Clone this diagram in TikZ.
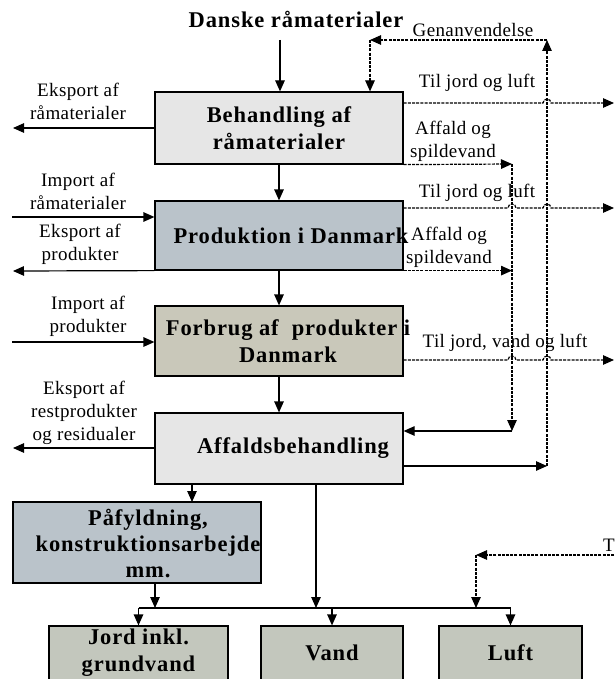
\documentclass[tikz,border=0pt]{standalone}
\usepackage{fontspec}
\setmainfont{Liberation Serif}
\newfontfamily\labelfont[LetterSpace=2]{Liberation Serif}
\newfontfamily\boxfont[LetterSpace=4]{Liberation Serif}
\usetikzlibrary{arrows.meta,calc}
\definecolor{lightbox}{RGB}{230,230,230}
\definecolor{bluebox}{RGB}{186,195,202}
\definecolor{khakibox}{RGB}{201,200,186}
\definecolor{greenbox}{RGB}{195,199,189}
\begin{document}
\begin{tikzpicture}[x=1pt,y=-1pt,
	box/.style={draw, line width=1.2pt, minimum width=248pt, inner sep=0pt},
	boxtxt/.style={font=\boxfont\bfseries\fontsize{22.5}{27}\selectfont, align=center, inner sep=0pt},
	lbl/.style={font=\labelfont\fontsize{19}{23}\selectfont, align=center, inner sep=0pt},
	flow/.style={line width=1.2pt, -{Triangle[length=11pt,width=9.5pt]}},
	dline/.style={line width=1.2pt, dash pattern=on 3pt off 1.2pt},
	dflow/.style={dline, -{Triangle[length=11pt,width=9.5pt]}}]
	\clip (0,0) rectangle (615,679);

	% boxes
	\node[box, fill=lightbox, minimum height=72pt, boxtxt] (beh) at (279,128) {Behandling af\\råmaterialer};
	\node[box, fill=bluebox, minimum height=69pt] (prod) at (279,235.5) {};
	\node[boxtxt] (prodtxt) at (291,236) {Produktion i Danmark};
	\node[box, fill=khakibox, minimum height=70pt] (forb) at (279,341) {};
	\node[boxtxt] (forbtxt) at (288,341) {Forbrug af\ \ produkter i\\Danmark};
	\node[box, fill=lightbox, minimum height=71pt] (affb) at (279,448.5) {};
	\node[boxtxt] (affbtxt) at (293,448) {Affaldsbehandling};
	\node[box, fill=bluebox, minimum height=81pt] (paf) at (137,542.5) {};
	\node[boxtxt, font=\boxfont\bfseries\fontsize{22.5}{26}\selectfont] (paftxt) at (148,544) {Påfyldning,\\konstruktionsarbejde\\mm.};
	\node[box, fill=greenbox, minimum width=179pt, minimum height=54pt, boxtxt] (jord) at (138.5,653) {Jord inkl.\\grundvand};
	\node[box, fill=greenbox, minimum width=142pt, minimum height=54pt, boxtxt] (vand) at (332,653) {Vand};
	\node[box, fill=greenbox, minimum width=143pt, minimum height=54pt, boxtxt] (luft) at (510.5,653) {Luft};

	\node[boxtxt] (title) at (296,19) {Danske råmaterialer};

	% points
	\coordinate (in) at (280,40);
	\coordinate (gtop) at (547,40);
	\coordinate (gleft) at (370,40);
	\coordinate (gbot) at (547,466);
	\coordinate (avert) at (512,164);
	\coordinate (ain) at (512,431);
	\coordinate (out1) at (614,103);
	\coordinate (out2) at (614,208);
	\coordinate (out3) at (614,360);
	\coordinate (ex1) at (13,128);
	\coordinate (im1) at (12,217);
	\coordinate (ex2) at (13,271);
	\coordinate (im2) at (12,342);
	\coordinate (ex3) at (13,448);
	\coordinate (pin) at (192,502);
	\coordinate (bv) at (316,608);
	\coordinate (bp) at (155,608);
	\coordinate (rin) at (614,555);
	\coordinate (rc) at (476,555);

	% main chain
	\draw[flow] (in) -- (in |- beh.north);
	\draw[flow] (beh.south) -- (prod.north);
	\draw[flow] (prod.south) -- (forb.north);
	\draw[flow] (forb.south) -- (affb.north);
	\draw[flow] (affb.south -| pin) -- (pin);
	\draw[flow] (affb.south -| bv) -- (bv);
	\draw[flow] (paf.south -| bp) -- (bp);
	\draw[line width=1.2pt] (jord.north |- bp) -- (luft.north |- bp);
	\draw[flow] (jord.north |- bp) -- (jord.north);
	\draw[flow] (vand.north |- bp) -- (vand.north);
	\draw[flow] (luft.north |- bp) -- (luft.north);

	% import / eksport
	\draw[flow] (beh.west |- ex1) -- (ex1);
	\draw[flow] (im1) -- (prod.west |- im1);
	\draw[flow] (prod.south west) -- (ex2);
	\draw[flow] (im2) -- (forb.west |- im2);
	\draw[flow] (affb.west |- ex3) -- (ex3);
	\node[lbl] (ex1txt) at (78,101.5) {Eksport af\\råmaterialer};
	\node[lbl] (im1txt) at (78,191) {Import af\\råmaterialer};
	\node[lbl] (ex2txt) at (80,244) {Eksport af\\produkter};
	\node[lbl] (im2txt) at (88,316) {Import af\\produkter};
	\node[lbl] (ex3txt) at (84,413) {Eksport af\\restprodukter\\og residualer};

	% genanvendelse
	\draw[flow] (affb.east |- gbot) -- (gbot);
	\draw[dflow] (gbot) -- (gtop);
	\draw[dflow] (gtop) -- (gleft);
	\draw[dflow] (gleft) -- (gleft |- beh.north);
	\node[lbl] (gtxt) at (473,30) {Genanvendelse};

	% affald og spildevand
	\draw[dflow] (beh.south east) -- (avert);
	\draw[dflow] (prod.south east) -- (avert |- prod.south);
	\draw[dflow] (avert) -- (ain);
	\draw[flow] (ain) -- (affb.east |- ain);
	\node[lbl] (a1txt) at (453,141.5) {Affald og\\spildevand};
	\node[lbl] (a2txt) at (449,247) {Affald og\\spildevand};

	% til jord og luft
	\draw[dflow] (beh.east |- out1) -- ($(gbot |- out1)+(-4,0)$) arc[start angle=180, end angle=0, radius=4pt] -- (out1);
	\draw[dflow] (prod.east |- out2) -- ($(avert |- out2)+(-4,0)$) arc[start angle=180, end angle=0, radius=4pt]
		-- ($(gbot |- out2)+(-4,0)$) arc[start angle=180, end angle=0, radius=4pt] -- (out2);
	\draw[dflow] (forb.east |- out3) -- ($(avert |- out3)+(-4,0)$) arc[start angle=180, end angle=0, radius=4pt]
		-- ($(gbot |- out3)+(-4,0)$) arc[start angle=180, end angle=0, radius=4pt] -- (out3);
	\node[lbl] (o1txt) at (477,83) {Til jord og luft};
	\node[lbl] (o2txt) at (477,193) {Til jord og luft};
	\node[lbl] (o3txt) at (505,343) {Til jord, vand og luft};

	% fra hoejre
	\draw[dflow] (rin) -- (rc);
	\draw[dflow] (rc) -- (rc |- bp);
	\node[lbl, anchor=east] (rtxt) at (615,545) {T};
\end{tikzpicture}
\end{document}
